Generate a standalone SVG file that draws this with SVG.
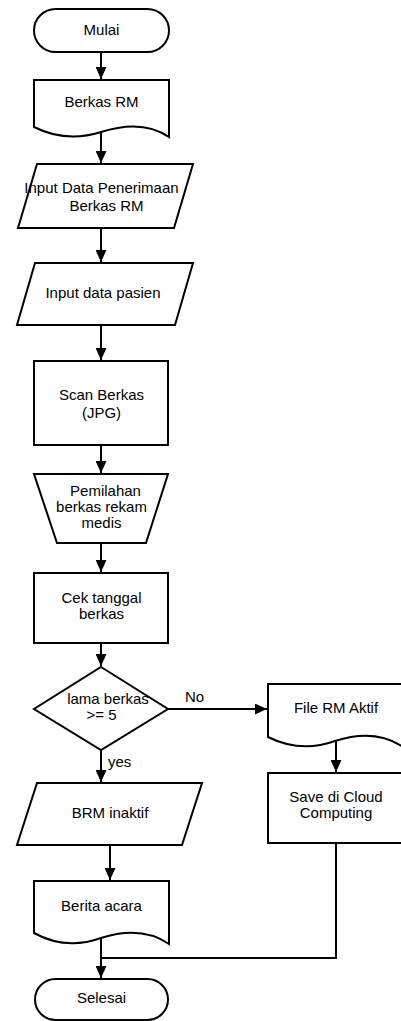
<svg xmlns="http://www.w3.org/2000/svg" width="401" height="1021" viewBox="0 0 401 1021">
<style>
.s{fill:#fff;stroke:#000;stroke-width:2}
.t{font-family:"Liberation Sans",Arial,sans-serif;font-size:15px;fill:#000;text-anchor:middle}
.l{font-family:"Liberation Sans",Arial,sans-serif;font-size:15px;fill:#000}
.c{fill:none;stroke:#000;stroke-width:2}
</style>
<defs>
<marker id="a" markerUnits="userSpaceOnUse" markerWidth="12" markerHeight="11" refX="12" refY="5.5" orient="auto">
<path d="M0,0 L12,5.5 L0,11 Z" fill="#000"/>
</marker>
</defs>
<rect width="401" height="1021" fill="#fff"/>
<g id="connectors">
<path class="c" d="M101,52 V79" marker-end="url(#a)"/>
<path class="c" d="M101,132 V163" marker-end="url(#a)"/>
<path class="c" d="M101,228 V262" marker-end="url(#a)"/>
<path class="c" d="M101,325 V360" marker-end="url(#a)"/>
<path class="c" d="M101,445 V473" marker-end="url(#a)"/>
<path class="c" d="M101,543 V572" marker-end="url(#a)"/>
<path class="c" d="M101,643 V666" marker-end="url(#a)"/>
<path class="c" d="M168,709 H267" marker-end="url(#a)"/>
<path class="c" d="M101,750 V782" marker-end="url(#a)"/>
<path class="c" d="M110,845 V880" marker-end="url(#a)"/>
<path class="c" d="M336,741 V772" marker-end="url(#a)"/>
<path class="c" d="M336,843 V958 H101"/>
<path class="c" d="M101,938 V978" marker-end="url(#a)"/>
<text class="l" x="185" y="702">No</text>
<text class="l" x="108" y="767">yes</text>
</g>
<g id="mulai">
<rect class="s" x="34" y="9" width="135" height="43" rx="21.5"/>
<text class="t" x="101.5" y="35">Mulai</text>
</g>
<g id="berkas-rm">
<path class="s" d="M34,80 H169 V137 C150,124 126,124 101,132 C76,140 54,137 34,127 Z"/>
<text class="t" x="101.5" y="107">Berkas RM</text>
</g>
<g id="input-penerimaan">
<polygon class="s" points="37,164 193,164 174,228 18,228"/>
<text class="t" x="101.5" y="193">Input Data Penerimaan</text>
<text class="t" x="106.5" y="211">Berkas RM</text>
</g>
<g id="input-pasien">
<polygon class="s" points="35,263 193,263 175,325 17,325"/>
<text class="t" x="103" y="298">Input data pasien</text>
</g>
<g id="scan">
<rect class="s" x="34" y="361" width="134" height="84"/>
<text class="t" x="101.5" y="400">Scan Berkas</text>
<text class="t" x="101.5" y="418">(JPG)</text>
</g>
<g id="pemilahan">
<polygon class="s" points="34,474 168,474 146,543 57,543"/>
<text class="t" x="105.5" y="496">Pemilahan</text>
<text class="t" x="101.5" y="512">berkas rekam</text>
<text class="t" x="101.5" y="528">medis</text>
</g>
<g id="cek">
<rect class="s" x="34" y="573" width="134" height="70"/>
<text class="t" x="101.5" y="603">Cek tanggal</text>
<text class="t" x="101.5" y="619">berkas</text>
</g>
<g id="decision">
<polygon class="s" points="101,667 168,709 101,750 34,709"/>
<text class="t" x="108" y="704">lama berkas</text>
<text class="t" x="101.5" y="720">&gt;= 5</text>
</g>
<g id="file-rm-aktif">
<path class="s" d="M268,684 H403 V747 C384,734 360,733 335,741 C310,750 288,747 268,737 Z"/>
<text class="t" x="336" y="713">File RM Aktif</text>
</g>
<g id="save-cloud">
<rect class="s" x="268" y="773" width="135" height="70"/>
<text class="t" x="336" y="802">Save di Cloud</text>
<text class="t" x="336" y="818">Computing</text>
</g>
<g id="brm-inaktif">
<polygon class="s" points="37,783 202,783 182,845 17,845"/>
<text class="t" x="110" y="818">BRM inaktif</text>
</g>
<g id="berita-acara">
<path class="s" d="M34,881 H169 V944 C150,931 126,930 101,938 C76,947 54,944 34,933 Z"/>
<text class="t" x="101.5" y="911">Berita acara</text>
</g>
<g id="selesai">
<rect class="s" x="35" y="979" width="133" height="41" rx="20.5"/>
<text class="t" x="101.5" y="1003">Selesai</text>
</g>
</svg>
